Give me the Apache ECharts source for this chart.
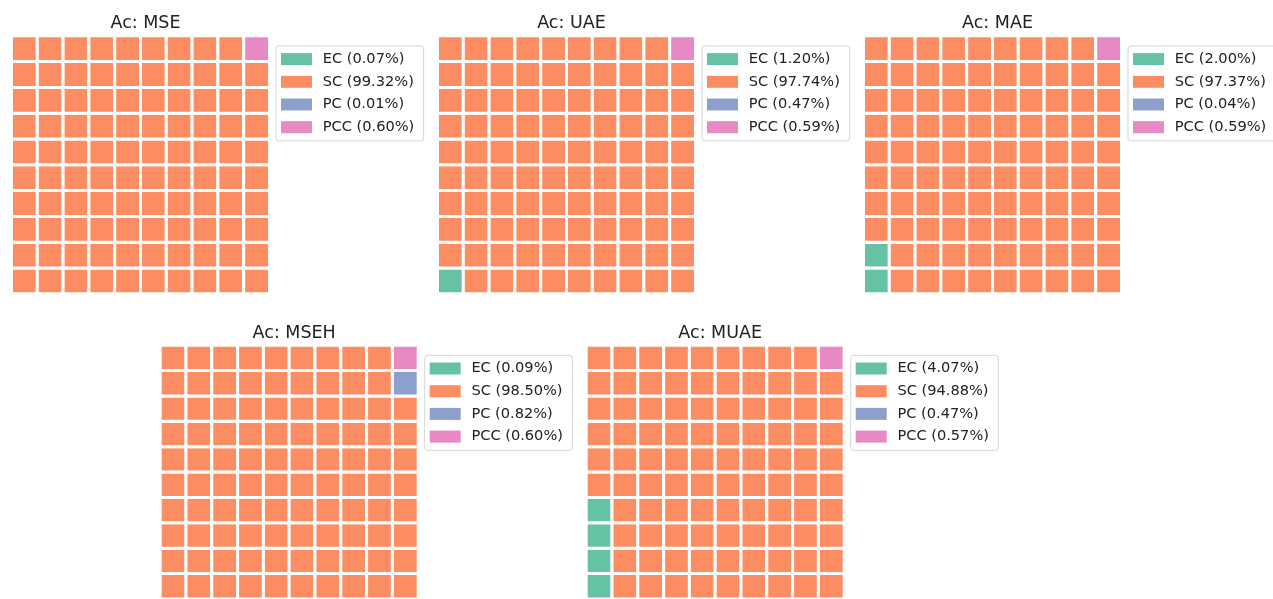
<!DOCTYPE html>
<html>
<head>
<meta charset="utf-8">
<script src="https://cdn.jsdelivr.net/npm/echarts@6/dist/echarts.min.js"></script>
<style>
html,body{margin:0;padding:0;background:#fff;}
#main{width:1273px;height:599px;}
</style>
</head>
<body>
<div id="main"></div>
<script>
// ---- data ----
const charts = ['MSE', 'UAE', 'MAE', 'MSEH', 'MUAE'];
const categories = ['EC', 'SC', 'PC', 'PCC'];
const percEC  = [0.07, 1.20, 2.00, 0.09, 4.07];
const percSC  = [99.32, 97.74, 97.37, 98.50, 94.88];
const percPC  = [0.01, 0.47, 0.04, 0.82, 0.47];
const percPCC = [0.60, 0.59, 0.59, 0.60, 0.57];
// number of blocks (out of 100) per category, as drawn
const cellsEC  = [0, 1, 2, 0, 4];
const cellsSC  = [99, 98, 97, 98, 95];
const cellsPC  = [0, 0, 0, 1, 0];
const cellsPCC = [1, 1, 1, 1, 1];

// ---- layout / style ----
const colors = ['#66c2a5', '#fc8d62', '#8da0cb', '#e78ac3'];
const gridPos = [
  {left: 11.5, top: 35.8},
  {left: 437.5, top: 35.8},
  {left: 863.5, top: 35.8},
  {left: 160.2, top: 345.2},
  {left: 586.2, top: 345.2}
];
const gridSize = 258;
const font = "'DejaVu Sans', sans-serif";

const percs = [percEC, percSC, percPC, percPCC];
const cells = [cellsEC, cellsSC, cellsPC, cellsPCC];

const grids = [], xAxes = [], yAxes = [], series = [], titles = [], legends = [];

charts.forEach((name, ci) => {
  const g = gridPos[ci];
  grids.push({left: g.left, top: g.top, width: gridSize, height: gridSize, containLabel: false});
  xAxes.push({type: 'value', gridIndex: ci, min: -0.5, max: 9.5, show: false});
  yAxes.push({type: 'value', gridIndex: ci, min: -0.5, max: 9.5, show: false});
  titles.push({
    text: 'Ac: ' + name,
    left: g.left + gridSize / 2,
    top: g.top - 26.5,
    textAlign: 'center',
    textStyle: {fontFamily: font, fontSize: 17.5, fontWeight: 'normal', color: '#222', lineHeight: 19}
  });
  // assign blocks column-major from bottom-left
  let k = 0;
  const names = [];
  categories.forEach((cat, j) => {
    const data = [];
    for (let n = 0; n < cells[j][ci]; n++, k++) {
      data.push([Math.floor(k / 10), k % 10]);
    }
    const sname = cat + ' (' + percs[j][ci].toFixed(2) + '%)';
    names.push(sname);
    series.push({
      type: 'custom',
      name: sname,
      xAxisIndex: ci,
      yAxisIndex: ci,
      itemStyle: {color: colors[j]},
      data: data,
      renderItem: (params, api) => {
        const c = api.coord([api.value(0), api.value(1)]);
        const s = api.size([1, 1]);
        return {
          type: 'rect',
          shape: {x: c[0] - s[0] / 2, y: c[1] - s[1] / 2, width: s[0], height: s[1]},
          style: {fill: colors[j], stroke: '#ffffff', lineWidth: 3}
        };
      }
    });
  });
  legends.push({
    data: names.map(n => ({name: n, icon: 'rect'})),
    orient: 'vertical',
    left: g.left + 1.5 + 263,
    top: g.top + 1.5 + 8.6,
    padding: [4.7, 9.4, 5.2, 5],
    itemWidth: 31,
    itemHeight: 12,
    itemGap: 5.7,
    backgroundColor: '#ffffff',
    borderColor: '#d5d5d5',
    borderWidth: 1,
    borderRadius: 3,
    selectedMode: false,
    itemStyle: {borderWidth: 0},
    textStyle: {fontFamily: font, fontSize: 14.6, color: '#222', lineHeight: 17, padding: [0, 0, 0, 5.7]}
  });
});

const chart = echarts.init(document.getElementById('main'), null, {renderer: 'canvas'});
chart.setOption({
  animation: false,
  backgroundColor: '#ffffff',
  title: titles,
  legend: legends,
  grid: grids,
  xAxis: xAxes,
  yAxis: yAxes,
  series: series
});
</script>
</body>
</html>
